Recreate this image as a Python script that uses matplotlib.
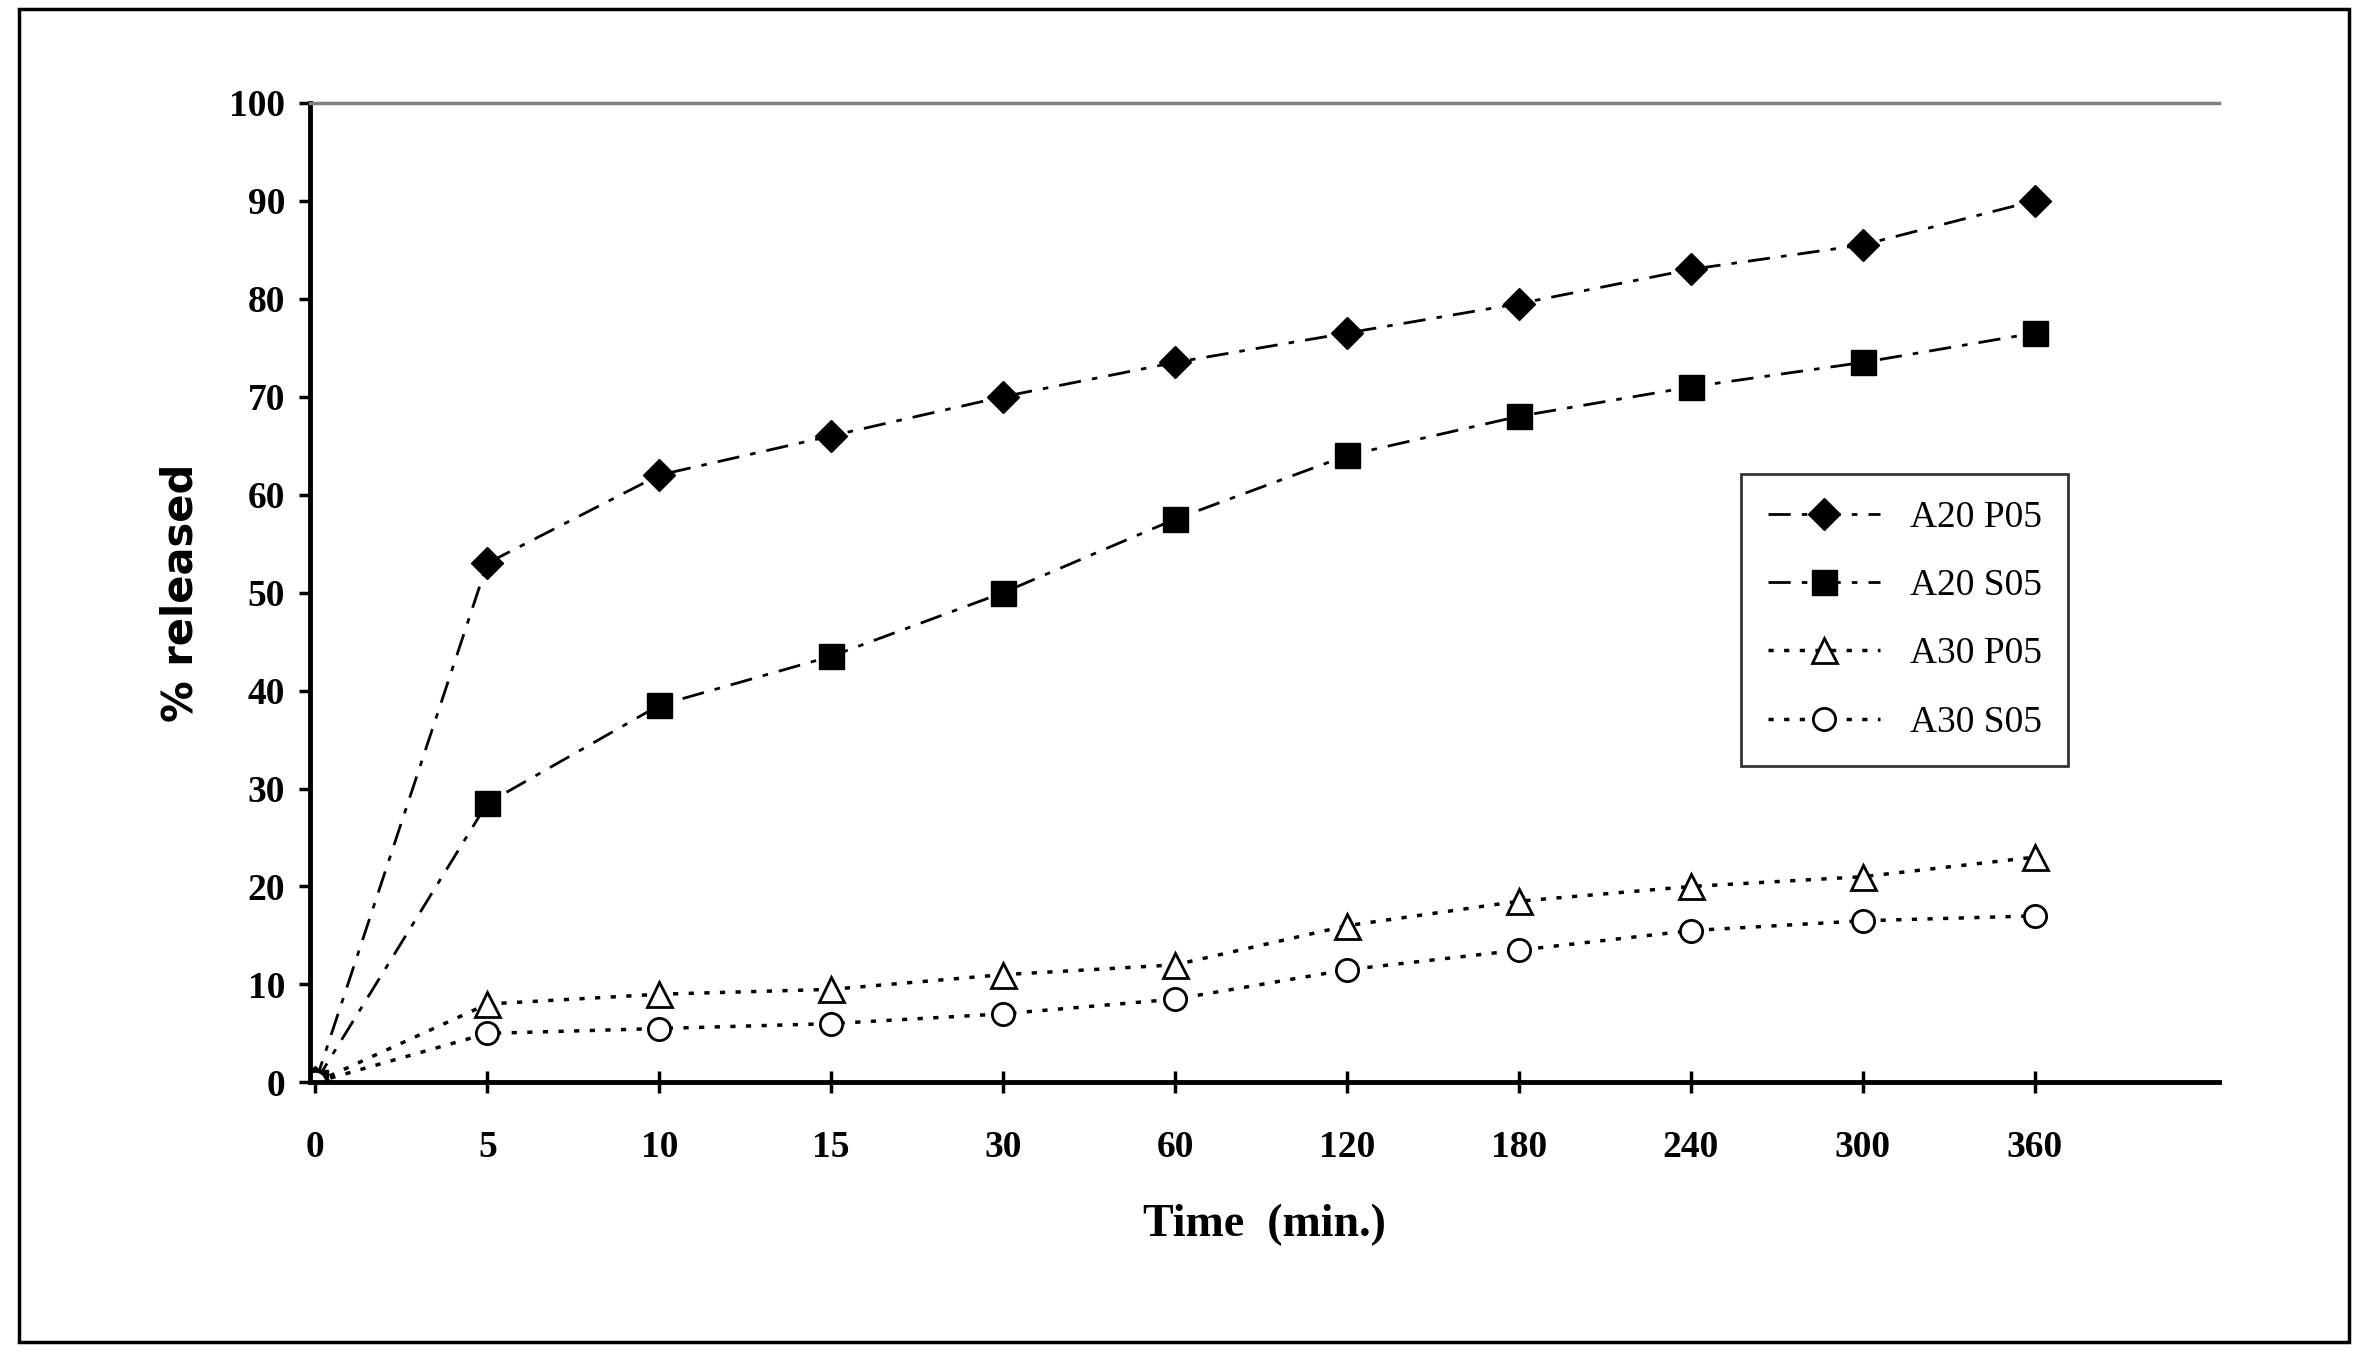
import matplotlib
matplotlib.use("Agg")
import matplotlib.pyplot as plt
from matplotlib.patches import Rectangle

times = ["0", "5", "10", "15", "30", "60", "120", "180", "240", "300", "360"]
a20_p05 = [0, 53, 62, 66, 70, 73.5, 76.5, 79.5, 83, 85.5, 90]
a20_s05 = [0, 28.5, 38.5, 43.5, 50, 57.5, 64, 68, 71, 73.5, 76.5]
a30_p05 = [0, 8, 9, 9.5, 11, 12, 16, 18.5, 20, 21, 23]
a30_s05 = [0, 5, 5.5, 6, 7, 8.5, 11.5, 13.5, 15.5, 16.5, 17]

plt.rcParams['font.family'] = ['Liberation Serif', 'DejaVu Serif']
fig = plt.figure(figsize=(23.68, 13.53), dpi=100)
fig.patches.append(Rectangle((0.008, 0.008), 0.984, 0.985, transform=fig.transFigure,
                             fill=False, lw=2.5, ec='black'))
ax = fig.add_axes([0.131, 0.2, 0.806, 0.724])
x = list(range(len(times)))
ax.plot(x, a20_p05, color='black', ls=(0, (8, 4, 2, 4)), lw=2, marker='D', ms=16, label='A20 P05')
ax.plot(x, a20_s05, color='black', ls=(0, (8, 4, 2, 4)), lw=2, marker='s', ms=18, label='A20 S05')
ax.plot(x, a30_p05, color='black', ls=(0, (1.5, 3)), lw=2.5, marker='^', ms=18, mfc='white', mew=2, label='A30 P05')
ax.plot(x, a30_s05, color='black', ls=(0, (1.5, 3)), lw=2.5, marker='o', ms=16, mfc='white', mew=2, label='A30 S05')

ax.set_xlim(-0.03, 11.07)
ax.set_ylim(0, 100)
ax.set_yticks(range(0, 101, 10))
ax.set_xticks(x)
ax.set_xticklabels(times)
for s in ['left', 'bottom']:
    ax.spines[s].set_linewidth(3.5)
ax.spines['right'].set_visible(False)
ax.spines['top'].set_color('gray')
ax.spines['top'].set_linewidth(2.5)
ax.tick_params(axis='y', direction='out', length=8, width=2.5, labelsize=27, pad=10)
ax.tick_params(axis='x', direction='inout', length=16, width=2.5, labelsize=27, pad=26)
for lab in ax.get_xticklabels() + ax.get_yticklabels():
    lab.set_fontweight('bold')
ax.set_xlabel('Time  (min.)', fontsize=33, fontweight='bold', labelpad=28)
ax.set_ylabel('% released', fontsize=30, fontweight='bold', family='DejaVu Sans', labelpad=20)
leg = ax.legend(loc='upper left', bbox_to_anchor=(0.74, 0.64), fontsize=27, frameon=True,
                fancybox=False, edgecolor='black', handlelength=3, borderpad=0.7, labelspacing=0.9)
leg.get_frame().set_linewidth(2)
fig.savefig('out.png', dpi=100)
